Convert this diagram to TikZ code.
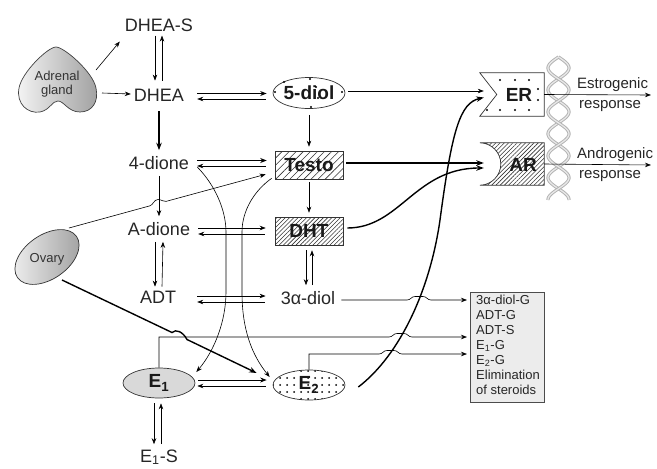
\documentclass[tikz,border=0pt]{standalone}
\usepackage{fontspec}
\setmainfont{Liberation Sans}
\usetikzlibrary{arrows.meta,shapes.geometric,patterns.meta,calc}
\begin{document}
\begin{tikzpicture}[x=1pt,y=-1pt,
  lbl/.style={font=\fontsize{18}{20}\selectfont, text=black!85, inner sep=0pt},
  blbl/.style={font=\fontsize{19}{20}\selectfont\bfseries, text=black!90, inner sep=0pt},
  boxtxt/.style={font=\fontsize{13}{15}\selectfont, text=black!85, inner sep=0pt, align=left},
  resp/.style={font=\fontsize{15}{17}\selectfont, text=black!85, inner sep=0pt},
  organ/.style={font=\fontsize{13}{14}\selectfont, text=black!80, inner sep=0pt, align=center},
  fine/.style={-{Stealth[length=6pt,width=4.5pt]}, line width=0.6pt},
  midline/.style={-{Stealth[length=6.5pt,width=5pt]}, line width=1pt},
  heavy/.style={-{Stealth[length=7.5pt,width=5.5pt]}, line width=1.4pt},
  outline/.style={draw=black!80, line width=0.7pt},
  sparsehatch/.style={pattern={Lines[angle=45,distance=5pt,line width=0.6pt]}, pattern color=black!80},
  densehatch/.style={pattern={Lines[angle=45,distance=3pt,line width=0.55pt]}, pattern color=black!80},
  dotfill/.style={pattern={Dots[radius=1pt,distance=7pt]}, pattern color=black},
]
\useasboundingbox (0,0) rectangle (657,469);

% DNA double helix behind the receptors
\foreach \ph in {0,180}{
  \draw[gray!60, line width=3.2pt] plot[domain=57:200, samples=140, smooth] ({558.5+10.5*sin(8.2*(\x-57)+\ph)}, \x);
  \draw[gray!18, line width=1.3pt] plot[domain=57:200, samples=140, smooth] ({558.5+10.5*sin(8.2*(\x-57)+\ph)}, \x);
}

% Adrenal gland
\path[draw=black!75, line width=0.7pt, left color=gray!8, right color=gray!75]
  (56,47) .. controls (48,47) and (22,72) .. (19,88)
  .. controls (16,104) and (28,114) .. (40,112)
  .. controls (50,110) and (52,101) .. (58,101)
  .. controls (64,101) and (68,112) .. (80,112)
  .. controls (92,112) and (99,102) .. (96,88)
  .. controls (93,72) and (64,47) .. (56,47) -- cycle;
\node[organ] (adrenal) at (57,84) {Adrenal\\gland};

% Ovary
\node[ellipse, outline, minimum width=72pt, minimum height=44pt, rotate=35,
      left color=gray!12, right color=gray!75] (ovary) at (47,257) {};
\node[organ] (ovarylbl) at (47,259) {Ovary};

% Left column
\node[lbl] (dheas) at (159,25) {DHEA-S};
\node[lbl] (dhea) at (159,95) {DHEA};
\node[lbl] (dione4) at (159,163) {4-dione};
\node[lbl] (adione) at (159,229) {A-dione};
\node[lbl] (adt) at (158,297) {ADT};
\node[ellipse, outline, fill=gray!30, minimum width=72pt, minimum height=30pt, inner sep=0pt, blbl] (e1) at (159,383) {E\textsubscript{1}};
\node[lbl, anchor=base] (e1s) at (159,462) {E\textsubscript{1}-S};

% Middle column
\node[ellipse, outline, minimum width=72pt, minimum height=31pt, inner sep=0pt, blbl] (diol) at (309,93) {5-diol};
\foreach \p in {(275,92),(284,82),(310,79),(316,87),(318,98),(342,92),(311,107)}
  \fill[black] \p circle (1.1);
\node[rectangle, outline, sparsehatch, minimum width=68pt, minimum height=28pt, inner sep=0pt, blbl] (testo) at (309,165) {Testo};
\node[rectangle, outline, densehatch, minimum width=68pt, minimum height=28pt, inner sep=0pt, blbl] (dht) at (309,231) {DHT};
\node[lbl] (adiol) at (308,298) {3α-diol};
\node[ellipse, outline, dotfill, minimum width=72pt, minimum height=30pt, inner sep=0pt, blbl] (e2) at (309,385) {E\textsubscript{2}};

% Estrogen receptor
\node[minimum width=64pt, minimum height=43pt, inner sep=0pt] (erbox) at (512,94.5) {};
\draw[outline, fill=white] (erbox.north west) -- (erbox.north east) -- (erbox.south east)
  -- (erbox.south west) -- ($(erbox.west)+(17,0)$) -- cycle;
\foreach \p in {(500,80),(515,80),(529,80),(538,89),(538,100),(487,110),(500,110),(515,110),(529,110)}
  \fill[black] \p circle (1.2);
\node[blbl] (er) at (519,95) {ER};

% Androgen receptor
\node[minimum width=64pt, minimum height=42pt, inner sep=0pt] (arbox) at (512,164) {};
\draw[outline, densehatch] (arbox.north west) -- (arbox.north east) -- (arbox.south east) -- (arbox.south west)
  .. controls ($(arbox.south west)+(11.6,0)$) and ($(arbox.west)+(21,11.6)$) .. ($(arbox.west)+(21,0)$)
  .. controls ($(arbox.west)+(21,-11.6)$) and ($(arbox.north west)+(11.6,0)$) .. (arbox.north west) -- cycle;
\node[blbl] (ar) at (523,165) {AR};

% Elimination box
\node[draw=black!70, fill=gray!15, line width=0.6pt, minimum width=74pt, minimum height=110pt,
      anchor=north west, inner sep=0pt] (elim) at (470,292) {};
\node[boxtxt, anchor=north west] (elimtxt) at ($(elim.north west)+(6,3)$)
  {3α-diol-G\\ADT-G\\ADT-S\\E\textsubscript{1}-G\\E\textsubscript{2}-G\\Elimination\\of steroids};

% Responses
\coordinate (eresp) at (651,95);
\coordinate (aresp) at (651,165);
\draw[fine] (erbox.east) -- (eresp);
\draw[fine] (arbox.east) -- (aresp);
\node[resp, anchor=base west] (estro) at (577,88.4) {Estrogenic};
\node[resp, anchor=base west] (eresplbl) at (579,108) {response};
\node[resp, anchor=base west] (andro) at (577,158.4) {Androgenic};
\node[resp, anchor=base west] (aresplbl) at (579,178) {response};

% Gland outputs
\draw[fine] ($(adrenal)+(39,-14)$) -- ($(dheas.south west)+(-5,10)$);
\draw[fine] ($(adrenal)+(45,9)$) -- ($(dhea.west)+(-3,-1)$);

% Vertical conversions
\draw[fine] ($(dheas.south)+(-4,4)$) -- ($(dhea.north)+(-4,-8)$);
\draw[fine] ($(dhea.north)+(3,-8)$) -- ($(dheas.south)+(3,4)$);
\draw[heavy] ($(dhea.south)+(0,10)$) -- ($(dione4.north)+(0,-6)$);
\draw[fine] ($(dione4.south)+(0,6)$) -- ($(adione.north)+(0,-6)$);
\draw[fine] ($(adione.south)+(-4,6)$) -- ($(adt.north)+(-3,-4)$);
\draw[fine] ($(adt.north)+(4,-4)$) -- ($(adione.south)+(4,6)$);
\draw[fine] ($(e1.south)+(-5,5)$) -- ($(e1s.north)+(-5,-5)$);
\draw[fine] ($(e1s.north)+(2,-5)$) -- ($(e1.south)+(2,5)$);
\draw[fine] ($(diol.south)+(0,6)$) -- ($(testo.north)+(0,-4)$);
\draw[fine] ($(testo.south)+(0,3)$) -- ($(dht.north)+(0,-4)$);
\draw[fine] ($(dht.south)+(-3,5)$) -- ($(adiol.north)+(-2,-6)$);
\draw[fine] ($(adiol.north)+(4,-6)$) -- ($(dht.south)+(3,5)$);

% Aromatase curves
\draw[fine] ($(dione4.east)+(8,4)$) .. controls (215,185) and (226,210) .. (226,232)
  -- (226,292) .. controls (226,320) and (215,350) .. ($(e1.east)+(1,-11)$);
\draw[fine] ($(testo.south west)+(-3,-1)$) .. controls (255,190) and (242,210) .. (242,232)
  -- (242,292) .. controls (242,330) and (252,355) .. ($(e2.west)+(-3,-8)$);

% Horizontal conversions
\draw[midline] ($(dhea.east)+(13,-1.5)$) -- ($(diol.west)+(-6,0.5)$);
\draw[fine] ($(diol.west)+(-7,6)$) -- ($(dhea.east)+(13,4)$);
\draw[midline] ($(dione4.east)+(8,-2.5)$) -- ($(testo.west)+(-8,-4.5)$);
\draw[fine] ($(testo.west)+(-9,1)$) -- ($(dione4.east)+(8,3)$);
\draw[fine] ($(adione.east)+(8,-1)$) -- ($(dht.west)+(-9,-3)$);
\draw[fine] ($(dht.west)+(-10,3)$) -- ($(adione.east)+(8,5)$);
\draw[fine] ($(adt.east)+(21,-1)$) -- ($(adiol.west)+(-15,-2)$);
\draw[fine] ($(adiol.west)+(-16,4)$) -- ($(adt.east)+(21,5)$);
\draw[midline] ($(e1.east)+(3,-3)$) -- ($(e2.west)+(-6,-5)$);
\draw[fine] ($(e2.west)+(-7,1)$) -- ($(e1.east)+(2,3)$);

% Ovary outputs
\draw[fine] ($(ovary.center)+(22,-29)$) -- (150,205.8)
  .. controls (153,205) and (154,199.5) .. (158,199.5)
  .. controls (162,199.5) and (163,202) .. (166,201.4)
  -- ($(testo.south west)+(-9,-5)$);
\draw[heavy] ($(ovary.center)+(15,23)$) -- (172,332.5)
  .. controls (176,328.5) and (183,332) .. (187,339.5)
  -- ($(e2.west)+(-16,-12)$);

% Receptor binding
\draw[fine] ($(diol.east)+(3,-2)$) -- ($(erbox.west)+(4,-3.5)$);
\draw[heavy] ($(testo.east)+(3,-2)$) -- ($(arbox.west)+(4,-1)$);
\draw[heavy] ($(dht.east)+(4,-3)$) .. controls (400,228) and (415,168) .. ($(arbox.west)+(4,4)$);
\draw[heavy] ($(e2.east)+(13,2)$) .. controls (400,355) and (430,290) .. (440,220)
  .. controls (452,130) and (460,103) .. ($(erbox.west)+(4,3)$);

% Conjugation and elimination
\draw[fine] ($(adiol.east)+(6,2)$) -- (407,300)
  .. controls (411,300) and (411,296.5) .. (415,296.5) -- (423,296.5)
  .. controls (427,296.5) and (427,300) .. (431,300) -- ($(elim.north west)+(-3,8)$);
\draw[fine] (e1.north) -- (159,337) -- (389,337)
  .. controls (393,337) and (393,333.5) .. (397,333.5) -- (404,333.5)
  .. controls (408,333.5) and (408,337) .. (412,337) -- ($(elim.north west)+(-3,45)$);
\draw[fine] (e2.north) -- (309,354) -- (379,354)
  .. controls (383,354) and (383,350.5) .. (387,350.5) -- (394,350.5)
  .. controls (398,350.5) and (398,354) .. (402,354) -- ($(elim.north west)+(-3,62)$);
\end{tikzpicture}
\end{document}
